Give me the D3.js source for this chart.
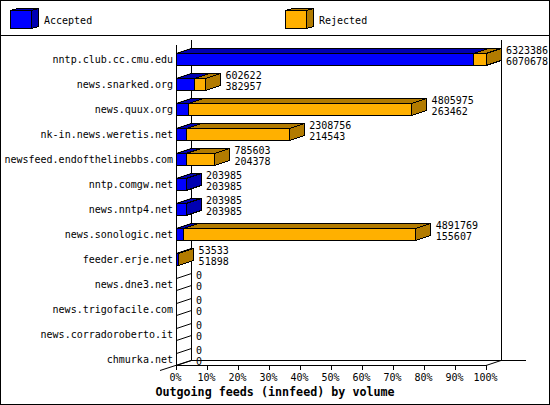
<!DOCTYPE html>
<html>
<head>
<meta charset="utf-8">
<script src="https://cdn.jsdelivr.net/npm/d3@7"></script>
<style>
html, body { margin: 0; padding: 0; background: #fff; }
svg { display: block; }
text { font-family: "DejaVu Sans Mono", monospace; font-size: 10px; fill: #000; }
.ln { stroke: #000; stroke-width: 1; fill: none; shape-rendering: crispEdges; }
.box { stroke: #000; stroke-width: 1; shape-rendering: crispEdges; }
</style>
</head>
<body>
<div id="chart"></div>
<script>
var categories = ["nntp.club.cc.cmu.edu", "news.snarked.org", "news.quux.org", "nk-in.news.weretis.net",
  "newsfeed.endofthelinebbs.com", "nntp.comgw.net", "news.nntp4.net", "news.sonologic.net",
  "feeder.erje.net", "news.dne3.net", "news.trigofacile.com", "news.corradoroberto.it", "chmurka.net"];
var totals = [6323386, 602622, 4805975, 2308756, 785603, 203985, 203985, 4891769, 53533, 0, 0, 0, 0];
var accepted = [6070678, 382957, 263462, 214543, 204378, 203985, 203985, 155607, 51898, 0, 0, 0, 0];
var legendNames = ["Accepted", "Rejected"];
var percentTicks = [0, 10, 20, 30, 40, 50, 60, 70, 80, 90, 100];

var width = 550, height = 405;
var depthX = 15, depthY = 5;
var colors = {
  Accepted: { front: "#0000ff", dark: "#0000b2" },
  Rejected: { front: "#ffb000", dark: "#b27b00" }
};

var svg = d3.select("#chart").append("svg")
  .attr("width", width)
  .attr("height", height);

var x = d3.scaleLinear().domain([0, d3.max(totals)]).range([176, 486]);
var pct = d3.scaleLinear().domain([0, 100]).range([176, 486]);
var y = d3.scaleBand().domain(categories).range([40, 365]);
var barTop = 13, barBottom = 25;

// outer frame and legend strip
svg.append("rect").attr("class", "ln")
  .attr("x", 0.5).attr("y", 0.5).attr("width", width - 1).attr("height", height - 1);
svg.append("line").attr("class", "ln")
  .attr("x1", 0).attr("x2", width).attr("y1", 35.5).attr("y2", 35.5);

// draws a box with front, top and side faces
function box(g, x0, x1, y0, y1, color) {
  g.append("path").attr("class", "box").attr("fill", color.dark)
    .attr("d", d3.line()([[x0, y0], [x0 + depthX, y0 - depthY], [x1 + depthX, y0 - depthY], [x1, y0]]) + "Z");
  g.append("path").attr("class", "box").attr("fill", color.dark)
    .attr("d", d3.line()([[x1, y0], [x1 + depthX, y0 - depthY], [x1 + depthX, y1 - depthY], [x1, y1]]) + "Z");
  g.append("rect").attr("class", "box").attr("fill", color.front)
    .attr("x", x0).attr("y", y0).attr("width", x1 - x0).attr("height", y1 - y0);
}

var legend = svg.selectAll("g.legend")
  .data(legendNames)
  .enter().append("g")
  .attr("class", "legend")
  .attr("transform", function(d, i) { return "translate(" + (i * 275) + ",0)"; });
legend.each(function(d) {
  var g = d3.select(this);
  g.append("path").attr("class", "box").attr("fill", colors[d].dark)
    .attr("d", d3.line()([[10.5, 10.5], [17.5, 8.5], [38.5, 8.5], [31.5, 10.5]]) + "Z");
  g.append("path").attr("class", "box").attr("fill", colors[d].dark)
    .attr("d", d3.line()([[31.5, 10.5], [38.5, 8.5], [38.5, 26.5], [31.5, 28.5]]) + "Z");
  g.append("rect").attr("class", "box").attr("fill", colors[d].front)
    .attr("x", 10.5).attr("y", 10.5).attr("width", 21).attr("height", 18);
  g.append("text").attr("x", 44).attr("y", 23.5).text(d);
});

// hatching on the left wall
var hatch = [];
categories.forEach(function(c) {
  hatch.push(y(c) + barTop, y(c) + barBottom);
});
svg.selectAll("line.hatch")
  .data(hatch)
  .enter().append("line")
  .attr("class", "hatch")
  .attr("stroke", "#000")
  .attr("x1", 176.5).attr("x2", 191.5)
  .attr("y1", function(d) { return d + 0.5; })
  .attr("y2", function(d) { return d - depthY + 0.5; });

// walls and floor
var walls = [
  [[176.5, 45], [176.5, 365.5]],
  [[191.5, 40], [191.5, 360.5]],
  [[501.5, 40], [501.5, 360.5]],
  [[191, 360.5], [526, 360.5]],
  [[176, 365.5], [486, 365.5]],
  [[160, 370.5], [191, 360.5]],
  [[486, 365.5], [501, 360.5]]
];
svg.selectAll("path.wall")
  .data(walls)
  .enter().append("path")
  .attr("class", "wall")
  .attr("fill", "none")
  .attr("stroke", "#000")
  .attr("d", d3.line());

// bars
categories.forEach(function(c, i) {
  var g = svg.append("g");
  var y0 = y(c) + barTop + 0.5, y1 = y(c) + barBottom + 0.5;
  if (accepted[i] > 0) box(g, x(0) + 0.5, x(accepted[i]), y0, y1, colors.Accepted);
  if (totals[i] > accepted[i]) box(g, x(accepted[i]), x(totals[i]), y0, y1, colors.Rejected);
});

// row labels
svg.selectAll("text.cat")
  .data(categories)
  .enter().append("text")
  .attr("class", "cat")
  .attr("text-anchor", "end")
  .attr("x", 173)
  .attr("y", function(d) { return y(d) + 23; })
  .text(function(d) { return d; });

// value labels
svg.selectAll("text.total")
  .data(totals)
  .enter().append("text")
  .attr("class", "total")
  .attr("x", function(d) { return x(d) + depthX + 5; })
  .attr("y", function(d, i) { return y(categories[i]) + 14; })
  .text(function(d) { return d; });
svg.selectAll("text.accepted")
  .data(accepted)
  .enter().append("text")
  .attr("class", "accepted")
  .attr("x", function(d, i) { return x(totals[i]) + depthX + 5; })
  .attr("y", function(d, i) { return y(categories[i]) + 25; })
  .text(function(d) { return d; });

// percent axis
var axis = d3.axisBottom(pct)
  .tickValues(percentTicks)
  .tickFormat(function(d) { return d + "%"; })
  .tickSize(5)
  .tickPadding(4);
var axisG = svg.append("g")
  .attr("transform", "translate(0,365)")
  .call(axis);
axisG.select(".domain").remove();
axisG.selectAll("line").attr("stroke", "#000").attr("shape-rendering", "crispEdges");
axisG.selectAll("text")
  .attr("font-family", null)
  .attr("font-size", null)
  .attr("dx", "-1");

svg.append("text")
  .attr("x", 275)
  .attr("y", 396)
  .attr("text-anchor", "middle")
  .style("font-size", "11.7px")
  .style("font-weight", "bold")
  .text("Outgoing feeds (innfeed) by volume");
</script>
</body>
</html>
